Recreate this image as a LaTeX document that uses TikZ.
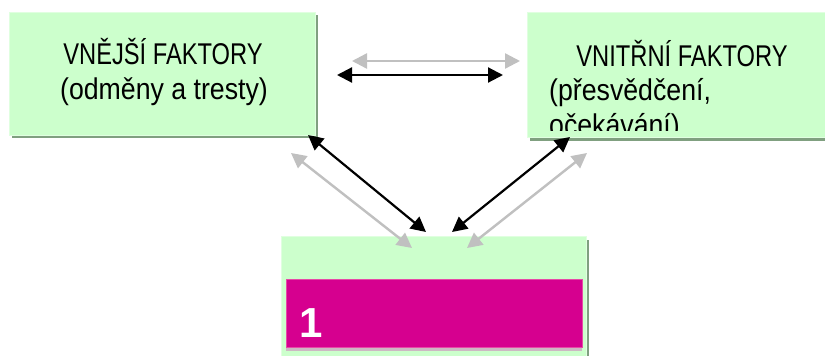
\documentclass[tikz,border=0pt]{standalone}
\usepackage{fontspec}
\setmainfont{Liberation Sans}
\newfontfamily\titlefont[FakeStretch=0.79]{Liberation Sans}
\newfontfamily\notefont[FakeStretch=0.89]{Liberation Sans}
\usetikzlibrary{arrows.meta}

\definecolor{boxfill}{HTML}{CCFFCC}
\definecolor{boxedge}{HTML}{E0FFE0}
\definecolor{boxshadow}{HTML}{80A080}
\definecolor{accent}{HTML}{D6008F}
\definecolor{accentedge}{HTML}{E64AA6}
\definecolor{accentshadow}{HTML}{CDB8C3}
\definecolor{linkgrey}{HTML}{C0C0C0}

\begin{document}
\begin{tikzpicture}[x=1pt,y=-1pt,
  panel/.style={fill=boxfill, draw=boxedge, line width=1pt, inner sep=0pt, outer sep=0pt, anchor=north west},
  panelshadow/.style={fill=boxshadow, draw=none, inner sep=0pt, outer sep=0pt, anchor=north west},
  titletext/.style={font=\titlefont\fontsize{30}{34}\selectfont, inner sep=0pt},
  notetext/.style={font=\notefont\fontsize{30}{34}\selectfont, inner sep=0pt},
  linkfront/.style={draw=black, line width=2.2pt, {Triangle[length=15pt,width=15pt]}-{Triangle[length=15pt,width=15pt]}},
  linkback/.style={draw=linkgrey, line width=2.4pt, {Triangle[length=15pt,width=15pt]}-{Triangle[length=15pt,width=15pt]}}
]
\useasboundingbox[fill=white] (0,0) rectangle (825,356);

% external factors panel
\node[panelshadow, minimum width=306pt, minimum height=123pt] (extshadow) at (12,15) {};
\node[panel, minimum width=306pt, minimum height=123pt] (ext) at (9,12) {};
\node[titletext, anchor=base] (exttitle) at (163,64.5) {VNĚJŠÍ FAKTORY};
\node[notetext, anchor=base] (extnote) at (164,99) {(odměny a tresty)};

% internal factors panel
\node[panelshadow, minimum width=320pt, minimum height=125pt] (intshadow) at (530,16) {};
\node[panel, minimum width=320pt, minimum height=125pt] (int) at (527,12) {};
\begin{scope}
  \clip (527,12) rectangle (830,130.5);
  \node[titletext, anchor=base] (inttitle) at (682,66.5) {VNITŘNÍ FAKTORY};
  \node[notetext, anchor=base west] (intnote) at (549,100) {(přesvědčení,};
  \node[notetext, anchor=base west] (intnotecont) at (549,135) {očekávání)};
\end{scope}

% result panel
\node[panelshadow, minimum width=305pt, minimum height=140pt] (resshadow) at (284,240) {};
\node[panel, minimum width=305pt, minimum height=140pt] (res) at (281,236) {};
\node[fill=accentshadow, inner sep=0pt, anchor=north west, minimum width=296pt, minimum height=68pt] (barshadow) at (286,283) {};
\node[fill=accent, draw=accentedge, line width=0.8pt, inner sep=0pt, anchor=north west, minimum width=296pt, minimum height=68pt] (bar) at (286,279) {};
\node[anchor=base west, inner sep=0pt, text=white, font=\bfseries\fontsize{42}{46}\selectfont] (barlabel) at (299,337.5) {1};

% connector ends
\coordinate (hgA) at (352,61);  \coordinate (hgB) at (520,61);
\coordinate (hbA) at (337,75);  \coordinate (hbB) at (503,75);
\coordinate (lbA) at (308,135); \coordinate (lbB) at (426,232);
\coordinate (lgA) at (291,153); \coordinate (lgB) at (412,248);
\coordinate (rbA) at (570,137); \coordinate (rbB) at (452,232);
\coordinate (rgA) at (587,153); \coordinate (rgB) at (467,248);

% two-way influences
\draw[linkback] (hgA) -- (hgB);
\draw[linkfront] (hbA) -- (hbB);
\draw[linkback] (lgA) -- (lgB);
\draw[linkfront] (lbA) -- (lbB);
\draw[linkback] (rgA) -- (rgB);
\draw[linkfront] (rbA) -- (rbB);
\end{tikzpicture}
\end{document}
